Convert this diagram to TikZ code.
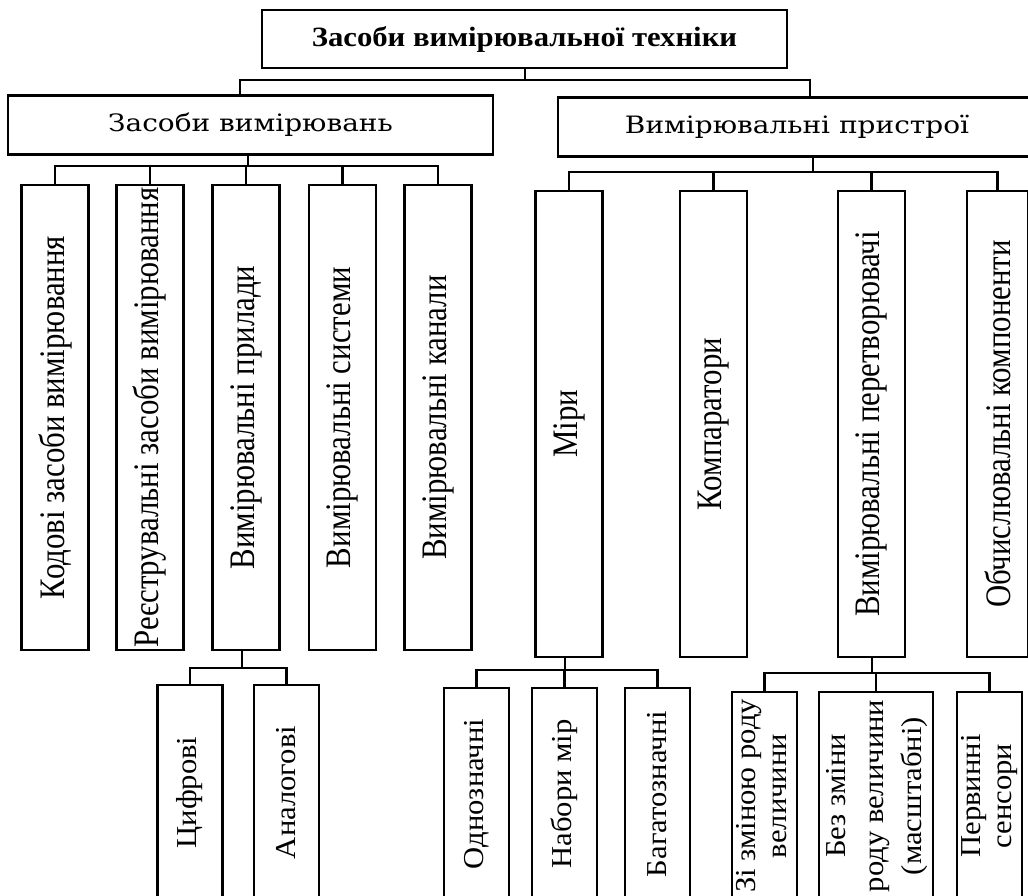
\documentclass[tikz,border=0pt]{standalone}
\usepackage{fontspec}
\usepackage{graphicx}
\setmainfont{Liberation Serif}
\newfontfamily\titlefont[FakeStretch=1.1]{Liberation Serif}
\newfontfamily\headfont[FakeStretch=1.17]{DejaVu Serif}
\newfontfamily\vfont[FakeStretch=0.86]{Liberation Serif}
\newfontfamily\lowfont[FakeStretch=1.06]{Liberation Serif}
\newcommand{\vrot}[1]{\rotatebox{90}{#1}}
\newcommand{\vlines}[1]{\rotatebox{90}{\begin{tabular}{@{}c@{}}#1\end{tabular}}}
\tikzset{
  box/.style={draw=black, line width=2.8bp, rectangle, inner sep=0pt, fill=white},
  conn/.style={draw=black, line width=2.8bp},
  topv/.style={box, minimum width=67bp, font=\vfont\fontsize{36}{38}\selectfont},
  lowv/.style={box, minimum width=65bp, font=\lowfont\fontsize{29}{31}\selectfont},
  headbox/.style={box, minimum height=59bp, font=\headfont\fontsize{24}{28}\selectfont},
}
\begin{document}
\begin{tikzpicture}[x=1bp, y=-1bp]
\useasboundingbox (0,0) rectangle (1028,896);
\fill[white] (0,0) rectangle (1028,896);
\clip (0,0) rectangle (1028,896);

% level 0
\node[box, minimum width=525bp, minimum height=58bp,
      font=\titlefont\fontsize{28}{30}\selectfont\bfseries] (T) at (524.5,39) {Засоби вимірювальної техніки};

% level 1
\node[headbox, minimum width=485bp] (ZV) at (250.5,125) {Засоби вимірювань};
\node[headbox, minimum width=478bp] (VP) at (797,127) {Вимірювальні пристрої};

% level 2 left
\node[topv, minimum height=465bp] (K1) at (55,417.5) {\vrot{Кодові засоби вимірювання}};
\node[topv, minimum height=465bp] (K2) at (150,417.5) {\vrot{Реєструвальні засоби вимірювання}};
\node[topv, minimum height=465bp] (K3) at (246,417.5) {\vrot{Вимірювальні прилади}};
\node[topv, minimum height=465bp] (K4) at (342.5,417.5) {\vrot{Вимірювальні системи}};
\node[topv, minimum height=465bp] (K5) at (438,417.5) {\vrot{Вимірювальні канали}};

% level 2 right
\node[topv, minimum height=466bp] (M) at (569,424) {\vrot{Міри}};
\node[topv, minimum height=466bp] (C) at (713.5,424) {\vrot{Компаратори}};
\node[topv, minimum height=466bp] (P) at (871.5,424) {\vrot{Вимірювальні перетворювачі}};
\node[topv, minimum height=466bp, minimum width=61bp] (O) at (997.5,424) {\vrot{Обчислювальні компоненти}};

% level 3
\node[lowv, minimum height=215bp] (D1) at (190,792.5) {\vrot{Цифрові}};
\node[lowv, minimum height=215bp] (D2) at (286.5,792.5) {\vrot{Аналогові}};

\node[lowv, minimum height=212bp] (E1) at (476.5,794) {\vrot{Однозначні}};
\node[lowv, minimum height=212bp] (E2) at (564.5,794) {\vrot{Набори мір}};
\node[lowv, minimum height=212bp] (E3) at (657.5,794) {\vrot{Багатозначні}};

\node[lowv, minimum height=208bp] (F1) at (764.5,796) {\vlines{Зі зміною роду\\ величини}};
\node[lowv, minimum height=208bp, minimum width=114bp,
      font=\lowfont\fontsize{29}{38}\selectfont] (F2) at (876,796) {\vlines{Без зміни\\ роду величини\\ (масштабні)}};
\node[lowv, minimum height=208bp] (F3) at (989.5,796) {\vlines{Первинні\\ сенсори}};

% junctions
\coordinate (j0) at (525,80);
\coordinate (j0L) at (240,80);
\coordinate (j0R) at (810,80);
\coordinate (j1) at (248,166);
\coordinate (j2) at (813,172);
\coordinate (j3) at (242,668);
\coordinate (j4) at (565,670);
\coordinate (j5) at (872,673);

% connectors level 0 -> 1
\draw[conn] (T.south -| j0) -- (j0);
\draw[conn] (ZV.north -| j0L) |- (j0R) -- (VP.north -| j0R);

% ZV -> children
\draw[conn] (ZV.south -| j1) -- (j1);
\draw[conn] (K1.north) |- (j1) -| (K5.north);
\foreach \n in {K2,K3,K4} \draw[conn] (\n.north) -- (\n.north |- j1);

% VP -> children
\draw[conn] (VP.south -| j2) -- (j2);
\draw[conn] (M.north) |- (j2) -| (O.north);
\foreach \n in {C,P} \draw[conn] (\n.north) -- (\n.north |- j2);

% K3 -> D
\draw[conn] (K3.south -| j3) -- (j3);
\draw[conn] (D1.north) |- (j3) -| (D2.north);

% M -> E
\draw[conn] (M.south -| j4) -- (j4);
\draw[conn] (E1.north) |- (j4) -| (E3.north);
\draw[conn] (E2.north) -- (E2.north |- j4);

% P -> F
\draw[conn] (P.south -| j5) -- (j5);
\draw[conn] (F1.north) |- (j5) -| (F3.north);
\draw[conn] (F2.north) -- (F2.north |- j5);
\end{tikzpicture}
\end{document}
